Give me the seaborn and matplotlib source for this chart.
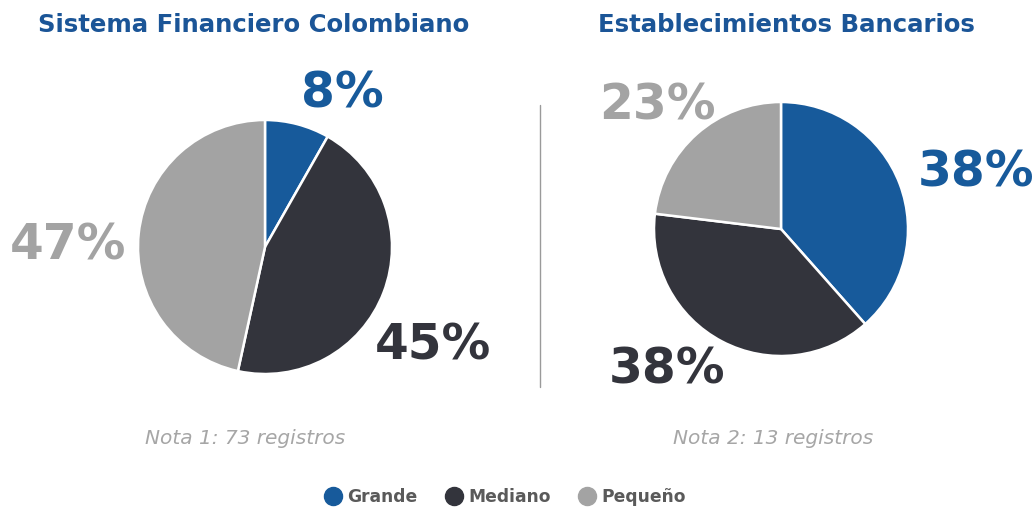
import matplotlib
matplotlib.use("Agg")
import matplotlib.pyplot as plt
from matplotlib.lines import Line2D
import seaborn as sns

categories = ["Grande", "Mediano", "Pequeño"]
sfc_values = [6, 33, 34]        # Sistema Financiero Colombiano (73 registros)
eb_values = [5, 5, 3]           # Establecimientos Bancarios (13 registros)
sfc_labels = ["8%", "45%", "47%"]
eb_labels = ["38%", "38%", "23%"]
titles = ["Sistema Financiero Colombiano", "Establecimientos Bancarios"]
notes = ["Nota 1: 73 registros", "Nota 2: 13 registros"]

sns.set_theme(style="white")
plt.rcParams['font.family'] = ['DejaVu Sans']

colors = ["#175a9b", "#33343c", "#a3a3a3"]
title_color = "#1b5597"

W, H = 1034, 508
fig = plt.figure(figsize=(W / 100, H / 100), dpi=100)

def px_axes(cx, cy, r):
    return fig.add_axes([(cx - r) / W, (H - cy - r) / H, 2 * r / W, 2 * r / H])

def fx(x):
    return x / W

def fy(y):
    return 1 - y / H

pies = [
    dict(cx=265, cy=247, r=127, vals=sfc_values, labels=sfc_labels,
         lpos=[(342, 93), (433, 345), (68, 245)]),
    dict(cx=781, cy=229, r=127, vals=eb_values, labels=eb_labels,
         lpos=[(976, 172), (667, 370), (657, 105)]),
]

for p in pies:
    ax = px_axes(p["cx"], p["cy"], p["r"])
    ax.pie(p["vals"], colors=colors, startangle=90, counterclock=False,
           wedgeprops=dict(edgecolor="white", linewidth=1.8))
    ax.set_xlim(-1, 1)
    ax.set_ylim(-1, 1)
    ax.set_aspect("equal")
    ax.axis("off")
    for (x, y), lab, c in zip(p["lpos"], p["labels"], colors):
        fig.text(fx(x), fy(y), lab, ha="center", va="center", color=c,
                 fontsize=35, fontweight="bold")

# titles
fig.text(fx(254), fy(25), titles[0], ha="center", va="center",
         color=title_color, fontsize=17.6, fontweight="bold")
fig.text(fx(786), fy(25), titles[1], ha="center", va="center",
         color=title_color, fontsize=17.6, fontweight="bold")

# notes
fig.text(fx(245), fy(438), notes[0], ha="center", va="center",
         color="#a6a6a6", fontsize=14.5, fontstyle="italic")
fig.text(fx(773), fy(438), notes[1], ha="center", va="center",
         color="#a6a6a6", fontsize=14.5, fontstyle="italic")

# divider
fig.add_artist(Line2D([fx(540), fx(540)], [fy(105), fy(387)],
                      color="#9a9a9a", linewidth=1))

handles = [Line2D([0], [0], marker="o", linestyle="none", markersize=13,
                  markerfacecolor=c, markeredgecolor=c) for c in colors]
leg = fig.legend(handles, categories, loc="center", ncol=3,
                 bbox_to_anchor=(fx(505), fy(497)), frameon=False,
                 handlelength=1.0, handletextpad=0.35, columnspacing=1.6,
                 prop=dict(size=12.3, weight="bold"))
for t in leg.get_texts():
    t.set_color("#5a5a5a")

fig.savefig("out.png", dpi=100)
